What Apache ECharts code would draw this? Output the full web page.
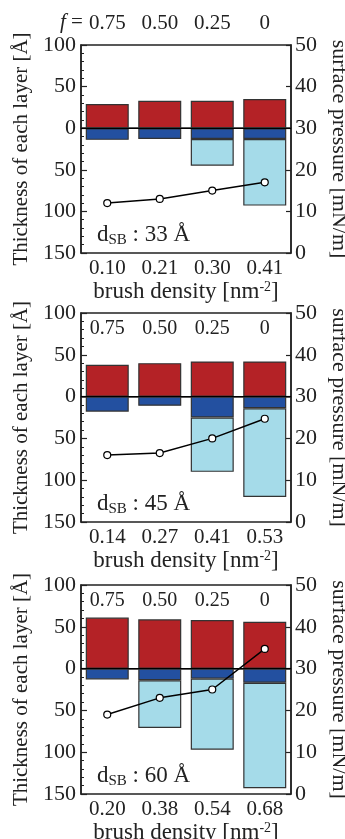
<!DOCTYPE html>
<html>
<head>
<meta charset="utf-8">
<script src="https://cdn.jsdelivr.net/npm/echarts@6/dist/echarts.min.js"></script>
<style>
  html, body { margin: 0; padding: 0; background: #fff; }
  #chart { width: 345px; height: 839px; }
</style>
</head>
<body>
<div id="chart"></div>
<script>
// Brush densities (x categories) for the three spacer lengths
const densities = [
  ['0.10', '0.21', '0.30', '0.41'],
  ['0.14', '0.27', '0.41', '0.53'],
  ['0.20', '0.38', '0.54', '0.68']
];
// Fraction f for each column
const fractions = ['0.75', '0.50', '0.25', '0'];
// Layer thicknesses [Å]: upper layer (above 0), middle layer and lower layer (below 0)
const upperLayer = [
  [29, 33, 33, 35],
  [38, 40, 42, 42],
  [61, 59, 58, 56]
];
const middleLayer = [
  [14, 13, 13, 13],
  [18, 11, 25, 14],
  [13, 14, 12, 17]
];
const lowerLayer = [
  [null, null, 32, 80],
  [null, null, 65, 106],
  [null, 57, 85, 126]
];
// Surface pressure [mN/m]
const pressure = [
  [12, 13, 15, 17],
  [16, 16.5, 20, 24.7],
  [19, 23, 25, 34.7]
];
// Spacer length d_SB [Å]
const spacer = ['33', '45', '60'];

const FONT = '"Liberation Serif", "DejaVu Serif", serif';
const INK = '#222';
const RED = '#b42226';
const BLUE = '#2350a0';
const CYAN = '#a5dbe9';
const EDGE = '#333';

const panels = [
  { top: 45, height: 208 },
  { top: 313, height: 209 },
  { top: 585, height: 209 }
];

const grid = [], xAxis = [], yAxis = [], series = [], graphic = [];

panels.forEach((p, i) => {
  grid.push({
    left: 81, width: 210, top: p.top, height: p.height,
    outerBoundsMode: 'none', containLabel: false,
    show: true, borderColor: INK, borderWidth: 1.5, backgroundColor: 'transparent'
  });
  // bottom axis: brush density
  xAxis.push({
    type: 'category', gridIndex: i, position: 'bottom', data: densities[i],
    axisLine: { show: true, lineStyle: { color: INK, width: 1.5 } },
    axisTick: { show: false },
    axisLabel: { color: INK, fontFamily: FONT, fontSize: 21, margin: 5, interval: 0 },
    name: 'brush density [nm{sup|-2}]',
    nameLocation: 'middle', nameGap: 21,
    nameTextStyle: {
      color: INK, fontFamily: FONT, fontSize: 23,
      rich: { sup: { fontFamily: FONT, fontSize: 14, color: INK, padding: [0, 0, 11, 0] } }
    }
  });
  // top axis: fraction f
  xAxis.push({
    type: 'category', gridIndex: i, position: 'top', data: fractions,
    axisLine: { show: false }, axisTick: { show: false },
    axisLabel: {
      color: INK, fontFamily: FONT, fontSize: i === 0 ? 21 : 20, interval: 0,
      inside: i !== 0, margin: i === 0 ? 11 : 6
    }
  });
  // left axis: thickness
  yAxis.push({
    type: 'value', gridIndex: i, position: 'left', min: -150, max: 100, interval: 50,
    axisLine: { show: true, lineStyle: { color: INK, width: 1.5 } },
    axisTick: { show: true, inside: true, length: 6, lineStyle: { color: INK, width: 1.2 } },
    minorTick: { show: true, splitNumber: 5, length: 3, lineStyle: { color: INK, width: 1 } },
    splitLine: { show: false },
    axisLabel: { color: INK, fontFamily: FONT, fontSize: 22, margin: 5,
      formatter: v => String(Math.abs(v)) },
    name: 'Thickness of each layer [Å]', nameLocation: 'middle', nameGap: 46,
    nameTextStyle: { color: INK, fontFamily: FONT, fontSize: 21 }
  });
  // right axis: surface pressure
  yAxis.push({
    type: 'value', gridIndex: i, position: 'right', min: 0, max: 50, interval: 10,
    axisLine: { show: true, lineStyle: { color: INK, width: 1.5 } },
    axisTick: { show: true, inside: true, length: 5, lineStyle: { color: INK, width: 1.2 } },
    splitLine: { show: false },
    axisLabel: { color: INK, fontFamily: FONT, fontSize: 22, margin: 4 },
    name: 'surface pressure [mN/m]', nameLocation: 'middle', nameGap: 30, nameRotate: -90,
    nameTextStyle: { color: INK, fontFamily: FONT, fontSize: 22 }
  });

  const bx = 2 * i, by = 2 * i;
  const barCommon = {
    type: 'bar', xAxisIndex: bx, yAxisIndex: by, stack: 'layers' + i, barWidth: 43
  };
  series.push(Object.assign({}, barCommon, {
    name: 'upper' + i, data: upperLayer[i],
    itemStyle: { color: RED, borderColor: EDGE, borderWidth: 1.2 },
    markLine: {
      silent: true, symbol: 'none', label: { show: false },
      lineStyle: { color: '#000', width: 1.2, type: 'solid' },
      data: [{ yAxis: 0 }]
    }
  }));
  series.push(Object.assign({}, barCommon, {
    name: 'middle' + i, data: middleLayer[i].map(v => -v),
    itemStyle: { color: BLUE, borderColor: EDGE, borderWidth: 1.2 }
  }));
  series.push(Object.assign({}, barCommon, {
    name: 'lower' + i, data: lowerLayer[i].map(v => v == null ? null : -v),
    itemStyle: { color: CYAN, borderColor: EDGE, borderWidth: 1.2 }
  }));
  series.push({
    type: 'line', name: 'pressure' + i, xAxisIndex: bx, yAxisIndex: by + 1,
    data: pressure[i], z: 5,
    symbol: 'circle', symbolSize: 7,
    lineStyle: { color: '#000', width: 1.5 },
    itemStyle: { color: '#fff', borderColor: '#000', borderWidth: 1.2 }
  });

  // spacer label inside the lower-left corner
  graphic.push({
    type: 'text', left: 97, top: p.top + p.height - 30, z: 10,
    style: {
      text: '{d|d}{s|SB}{d| : ' + spacer[i] + ' Å}',
      rich: {
        d: { fontFamily: FONT, fontSize: 23, fill: INK },
        s: { fontFamily: FONT, fontSize: 15, fill: INK, padding: [11, 0, 0, 0] }
      }
    }
  });
});

// "f =" prefix for the top fraction labels
graphic.push({
  type: 'text', left: 60, top: 12, z: 10,
  style: { text: '{i|f}{n| =}', rich: {
    i: { fontFamily: FONT, fontSize: 21, fontStyle: 'italic', fill: INK },
    n: { fontFamily: FONT, fontSize: 21, fill: INK }
  } }
});

const chart = echarts.init(document.getElementById('chart'), null, { renderer: 'canvas' });
chart.setOption({
  animation: false,
  backgroundColor: '#fff',
  grid, xAxis, yAxis, series, graphic
});
</script>
</body>
</html>
